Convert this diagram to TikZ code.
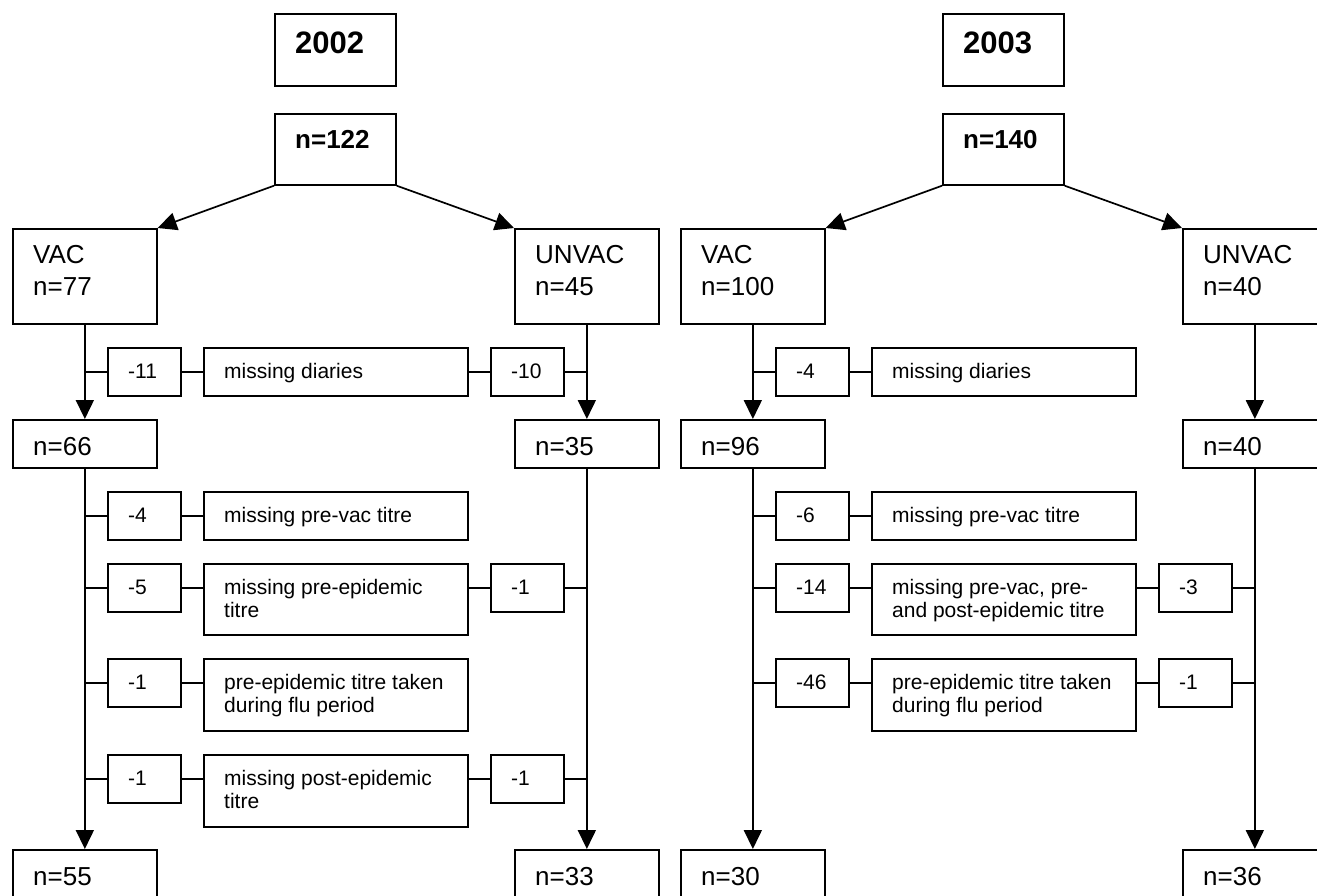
\documentclass[tikz,border=0pt]{standalone}
\usepackage{fontspec}
\setmainfont{Liberation Sans}
\usetikzlibrary{arrows.meta}
\tikzset{
  box/.style={draw, line width=1.7pt, inner sep=0pt, anchor=north west},
  big/.style={font=\fontsize{26}{32}\selectfont, anchor=base west, inner sep=0pt, align=left},
  small/.style={font=\fontsize{21}{23}\selectfont, anchor=base west, inner sep=0pt, align=left},
  head/.style={font=\bfseries\fontsize{31}{36}\selectfont, anchor=base west, inner sep=0pt},
  headn/.style={font=\bfseries\fontsize{26}{30}\selectfont, anchor=base west, inner sep=0pt},
  conn/.style={line width=1.7pt},
  arr/.style={conn, -{Triangle[length=19pt,width=18pt]}}
}
\newcommand\flowbox[8]{%
  \node[box, minimum width=#4pt, minimum height=#5pt] (#1) at (#2,#3) {};
  \node[#6] (#1-t) at ([shift={(21,#7)}]#1.north west) {#8};}
\begin{document}
\begin{tikzpicture}[x=1pt,y=-1pt]
\useasboundingbox (0,0) rectangle (1317,895);
% ---------------- 2002 ----------------
\flowbox{ya}{274}{13}{121}{72}{head}{40}{2002}
\flowbox{na}{274}{113}{121}{71}{headn}{35}{n=122}
\flowbox{vaca}{12}{228}{144}{95}{big}{67}{VAC\\n=77}
\flowbox{unva}{514}{228}{144}{95}{big}{67}{UNVAC\\n=45}
\flowbox{a1l}{107}{347}{73}{48}{small}{31}{-11}
\flowbox{a1m}{203}{347}{264}{48}{small}{31}{missing diaries}
\flowbox{a1r}{490}{347}{73}{48}{small}{31}{-10}
\flowbox{vacb}{12}{419}{144}{48}{big}{36}{n=66}
\flowbox{unvb}{514}{419}{144}{48}{big}{36}{n=35}
\flowbox{a2l}{107}{491}{73}{48}{small}{31}{-4}
\flowbox{a2m}{203}{491}{264}{48}{small}{31}{missing pre-vac titre}
\flowbox{a3l}{107}{563}{73}{48}{small}{31}{-5}
\flowbox{a3m}{203}{563}{264}{71}{small}{54}{missing pre-epidemic\\titre}
\flowbox{a3r}{490}{563}{73}{48}{small}{31}{-1}
\flowbox{a4l}{107}{658}{73}{48}{small}{31}{-1}
\flowbox{a4m}{203}{658}{264}{72}{small}{54}{pre-epidemic titre taken\\during flu period}
\flowbox{a5l}{107}{754}{73}{48}{small}{31}{-1}
\flowbox{a5m}{203}{754}{264}{72}{small}{54}{missing post-epidemic\\titre}
\flowbox{a5r}{490}{754}{73}{48}{small}{31}{-1}
\flowbox{vacc}{12}{849}{144}{48}{big}{36}{n=55}
\flowbox{unvc}{514}{849}{144}{48}{big}{36}{n=33}
\draw[arr] (na.south west) -- (vaca.north east);
\draw[arr] (na.south east) -- (unva.north west);
\draw[arr] (vaca.south) -- (vacb.north);
\draw[arr] (unva.south) -- (unvb.north);
\draw[arr] (vacb.south) -- (vacc.north);
\draw[arr] (unvb.south) -- (unvc.north);
\foreach \r in {a1,a2,a3,a4,a5}{
  \draw[conn] (\r l.west) -- (\r l.west -| vaca.south);
  \draw[conn] (\r l.east) -- (\r l.east -| \r m.west);
}
\foreach \r in {a1,a3,a5}{
  \draw[conn] (\r r.west -| \r m.east) -- (\r r.west);
  \draw[conn] (\r r.east) -- (\r r.east -| unva.south);
}
% ---------------- 2003 ----------------
\flowbox{yb}{942}{13}{121}{72}{head}{40}{2003}
\flowbox{nb}{942}{113}{121}{71}{headn}{35}{n=140}
\flowbox{bvaca}{680}{228}{144}{95}{big}{67}{VAC\\n=100}
\flowbox{bunva}{1182}{228}{144}{95}{big}{67}{UNVAC\\n=40}
\flowbox{b1l}{775}{347}{73}{48}{small}{31}{-4}
\flowbox{b1m}{871}{347}{264}{48}{small}{31}{missing diaries}
\flowbox{bvacb}{680}{419}{144}{48}{big}{36}{n=96}
\flowbox{bunvb}{1182}{419}{144}{48}{big}{36}{n=40}
\flowbox{b2l}{775}{491}{73}{48}{small}{31}{-6}
\flowbox{b2m}{871}{491}{264}{48}{small}{31}{missing pre-vac titre}
\flowbox{b3l}{775}{563}{73}{48}{small}{31}{-14}
\flowbox{b3m}{871}{563}{264}{71}{small}{54}{missing pre-vac, pre-\\and post-epidemic titre}
\flowbox{b3r}{1158}{563}{73}{48}{small}{31}{-3}
\flowbox{b4l}{775}{658}{73}{48}{small}{31}{-46}
\flowbox{b4m}{871}{658}{264}{72}{small}{54}{pre-epidemic titre taken\\during flu period}
\flowbox{b4r}{1158}{658}{73}{48}{small}{31}{-1}
\flowbox{bvacc}{680}{849}{144}{48}{big}{36}{n=30}
\flowbox{bunvc}{1182}{849}{144}{48}{big}{36}{n=36}
\draw[arr] (nb.south west) -- (bvaca.north east);
\draw[arr] (nb.south east) -- (bunva.north west);
\draw[arr] (bvaca.south) -- (bvacb.north);
\draw[arr] (bunva.south) -- (bunvb.north);
\draw[arr] (bvacb.south) -- (bvacc.north);
\draw[arr] (bunvb.south) -- (bunvc.north);
\foreach \r in {b1,b2,b3,b4}{
  \draw[conn] (\r l.west) -- (\r l.west -| bvaca.south);
  \draw[conn] (\r l.east) -- (\r l.east -| \r m.west);
}
\foreach \r in {b3,b4}{
  \draw[conn] (\r r.west -| \r m.east) -- (\r r.west);
  \draw[conn] (\r r.east) -- (\r r.east -| bunva.south);
}
\end{tikzpicture}
\end{document}
